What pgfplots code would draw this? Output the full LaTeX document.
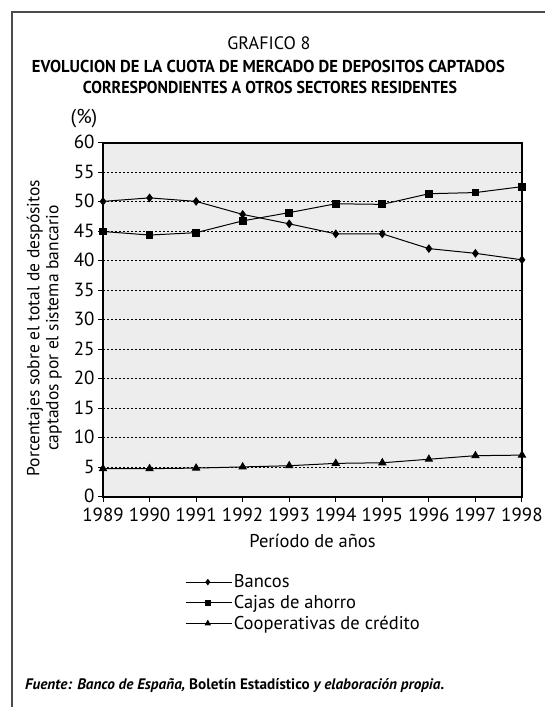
\documentclass[border=0pt]{standalone}
\usepackage{pgfplots}
\pgfplotsset{compat=1.18}
\usepackage{fontspec}
\setmainfont{PT Sans}

\pgfplotstableread{
year bancos cajas coop
1989 50.1 45.0 4.8
1990 50.7 44.4 4.8
1991 50.1 44.8 4.9
1992 47.9 46.8 5.1
1993 46.3 48.2 5.3
1994 44.6 49.7 5.7
1995 44.6 49.6 5.8
1996 42.1 51.4 6.4
1997 41.3 51.6 7.0
1998 40.2 52.6 7.1
}\cuota

\begin{document}
\begin{tikzpicture}[x=1pt,y=1pt]
\path[use as bounding box] (0,0) rectangle (545,707);
% marco
\draw[line width=2pt, black!70] (12,0) -- (12,695) -- (545,695);
% titulos
\node[anchor=base, inner sep=0, font=\fontsize{18}{20}\selectfont] at (269,657) {GRAFICO 8};
\node[anchor=base, inner sep=0] at (268.5,634) {\resizebox{473pt}{12.3pt}{\bfseries EVOLUCION DE LA CUOTA DE MERCADO DE DEPOSITOS CAPTADOS}};
\node[anchor=base, inner sep=0] at (270,613) {\resizebox{374pt}{12.3pt}{\bfseries CORRESPONDIENTES A OTROS SECTORES RESIDENTES}};
\node[anchor=base, inner sep=0, font=\fontsize{20}{22}\selectfont] at (84,583) {(\%)};
\node[anchor=base west, inner sep=0, font=\fontsize{15.2}{17}\selectfont\bfseries] at (25,17)
  {\itshape Fuente: Banco de España, \upshape Boletín Estadístico \itshape y elaboración propia.};

\begin{axis}[
  at={(103pt,210pt)}, anchor=south west,
  width=419pt, height=354pt, scale only axis,
  xmin=1989, xmax=1998, ymin=0, ymax=60,
  xtick={1989,...,1998}, ytick={0,5,...,60},
  xticklabel style={/pgf/number format/1000 sep={}, yshift=-2.5pt},
  yticklabel style={yshift=1pt},
  /pgf/number format/assume math mode=true,
  ticklabel style={font=\fontsize{19}{21}\selectfont},
  tick align=outside, xtick pos=bottom, ytick pos=left,
  major tick length=5pt,
  tick style={black, line width=1pt},
  axis line style={black, line width=1.2pt},
  axis background/.style={fill=black!7},
  ymajorgrids, grid style={black, line width=1pt, dash pattern=on 2pt off 2pt},
  clip=false,
  xlabel={Período de años},
  xlabel style={at={(axis description cs:0.5,-0.144)}, anchor=base, font=\fontsize{18.5}{20}\selectfont},
  ylabel={Porcentajes sobre el total de despósitos\\captados por el sistema bancario},
  ylabel style={at={(axis description cs:-0.14,0.477)}, anchor=center, align=center, font=\fontsize{17.5}{19}\selectfont},
  legend style={at={(axis description cs:0.196,-0.215)}, anchor=north west, draw=none, fill=none,
    inner sep=0pt, font=\fontsize{18.5}{20}\selectfont, row sep=3pt,
    nodes={inner sep=1.5pt}},
  legend cell align=left,
  legend image code/.code={\draw[mark repeat=2,mark phase=2,#1,every mark/.append style={scale=0.7}] plot coordinates {(0pt,0pt)(22pt,0pt)(46pt,0pt)};},
]
\addplot[black, line width=1pt, mark=diamond*, mark size=3.6pt, mark options={solid}] table[x=year, y=bancos] {\cuota};
\addlegendentry{Bancos}
\addplot[black, line width=1pt, mark=square*, mark size=3.4pt] table[x=year, y=cajas] {\cuota};
\addlegendentry{Cajas de ahorro}
\addplot[black, line width=1pt, mark=triangle*, mark size=4pt] table[x=year, y=coop] {\cuota};
\addlegendentry{Cooperativas de crédito}
\end{axis}
\end{tikzpicture}
\end{document}
